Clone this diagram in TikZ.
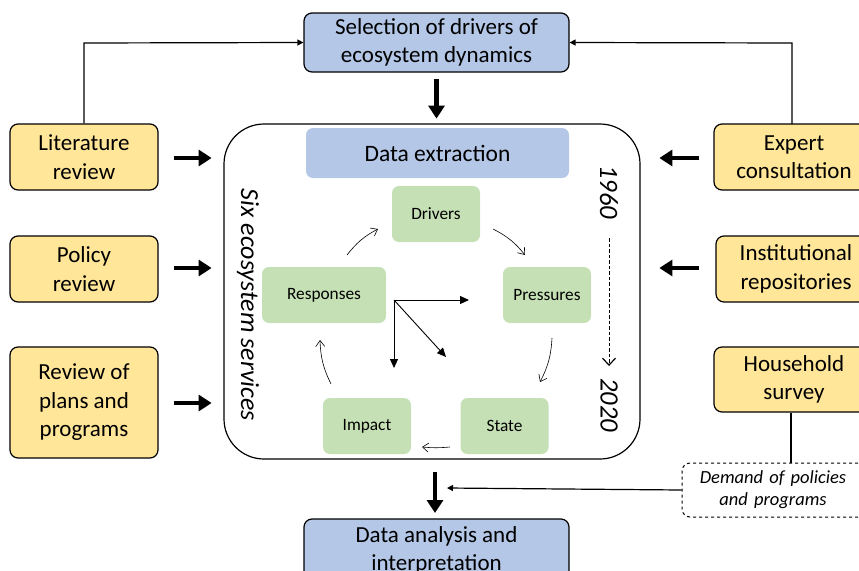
\documentclass[tikz,border=0pt]{standalone}
\usepackage{fontspec}
\setmainfont{Carlito}
\usetikzlibrary{arrows.meta,calc}
\definecolor{bluef}{HTML}{B4C7E7}
\definecolor{yelf}{HTML}{FFE699}
\definecolor{grnf}{HTML}{C5E0B4}
\tikzset{
  bluebox/.style={draw=black,line width=1.2pt,fill=bluef,rounded corners=8pt,align=center,font=\fontsize{23}{28}\selectfont},
  yelbox/.style={draw=black,line width=1.2pt,fill=yelf,rounded corners=8pt,align=center,font=\fontsize{23}{28.5}\selectfont},
  grnbox/.style={fill=grnf,rounded corners=7pt,minimum width=88pt,minimum height=56pt,font=\fontsize{17.3}{20}\selectfont},
  thick arrow/.style={line width=4.5pt,-{Triangle[length=13pt,width=16pt]}},
  thin arrow/.style={line width=1.2pt,-{Triangle[length=6pt,width=6pt]}},
  cyc/.style={line width=0.6pt,-{Straight Barb[length=6pt,width=9pt]}},
  mid arrow/.style={line width=0.9pt,-{Triangle[length=9pt,width=8pt]}},
  rottext/.style={rotate=-90,font=\itshape\fontsize{#1}{28}\selectfont},
}
\begin{document}
\begin{tikzpicture}[x=1pt,y=-1pt]
\useasboundingbox (0,0) rectangle (859,570);
\begin{scope}
\clip (0,0) rectangle (859,570);
% top/bottom blue boxes
\node[bluebox,minimum width=265pt,minimum height=59pt] (sel) at (436.5,42.5) {Selection of drivers of\\ecosystem dynamics};
\node[bluebox,minimum width=265pt,minimum height=62pt] (ana) at (436.5,550) {Data analysis and\\interpretation};
% big frame
\node[draw=black,line width=1.2pt,rounded corners=40pt,minimum width=416pt,minimum height=335pt] (frame) at (432,291.5) {};
\node[fill=bluef,rounded corners=7pt,minimum width=263pt,minimum height=50pt,font=\fontsize{23.5}{28}\selectfont] (ext) at (437.5,153) {Data extraction};
% green boxes
\node[grnbox] (drv) at (436,214) {Drivers};
\node[grnbox] (prs) at (547,295) {Pressures};
\node[grnbox,minimum width=124pt] (rsp) at (324,295) {Responses};
\node[grnbox] (imp) at (367,426) {Impact};
\node[grnbox] (sta) at (504.5,426) {State};
% cycle arrows
\coordinate (c1a) at (347,255); \coordinate (c1b) at (378,229);
\coordinate (c2a) at (493,229); \coordinate (c2b) at (525,255);
\coordinate (c3a) at (552,338); \coordinate (c3b) at (540,382);
\coordinate (c4a) at (450,447); \coordinate (c4b) at (422,447);
\coordinate (c5a) at (331,384); \coordinate (c5b) at (320,340);
\draw[cyc] (c1a) to[bend left=12] (c1b);
\draw[cyc] (c2a) to[bend left=12] (c2b);
\draw[cyc] (c3a) to[bend left=12] (c3b);
\draw[cyc] (c4a) to[bend left=5] (c4b);
\draw[cyc] (c5a) to[bend left=12] (c5b);
% three arrows
\coordinate (o) at (394,300);
\coordinate (oa) at (469,300);
\coordinate (ob) at (394,368);
\coordinate (oc) at (446,357);
\draw[mid arrow] (o) -- (oa);
\draw[mid arrow] (o) -- (ob);
\draw[mid arrow] (o) -- (oc);
% rotated texts
\node[rottext=26] (six) at (248,305) {Six ecosystem services};
\node[rottext=26.5] (y1) at (609,192) {1960};
\node[rottext=26.5] (y2) at (609,405) {2020};
\coordinate (ya) at (609,238);
\coordinate (yb) at (609,366);
\draw[line width=1pt,dash pattern=on 3.5pt off 2pt,-{Straight Barb[length=7pt,width=13pt,line width=1.2pt]}] (ya) -- (yb);
% left yellow
\node[yelbox,minimum width=148pt,minimum height=66pt] (lit) at (84,157) {Literature\\review};
\node[yelbox,minimum width=148pt,minimum height=66pt] (pol) at (84,269) {Policy\\review};
\node[yelbox,minimum width=148pt,minimum height=111pt] (rev) at (84,402.5) {Review of\\plans and\\programs};
% right yellow
\node[yelbox,minimum width=160pt,minimum height=66pt,text width=140pt] (exp) at (794,157) {Expert\\consultation};
\node[yelbox,minimum width=160pt,minimum height=66pt,text width=140pt] (ins) at (796,269) {Institutional\\repositories};
\node[yelbox,minimum width=160pt,minimum height=65pt,text width=140pt] (hou) at (794,379.5) {Household\\survey};
% dashed box
\node[draw=black,line width=1pt,dashed,rounded corners=8pt,minimum width=190pt,minimum height=54pt,text width=170pt,align=center,font=\itshape\fontsize{18.5}{22}\selectfont] (dem) at (777,490) {\hspace*{-8pt}\raisebox{-3pt}{Demand of policies}\\\hspace*{-8pt}\raisebox{-3pt}{and programs}};
% thick arrows
\draw[thick arrow] (sel.south) ++(0,6) -- ++(0,40);
\draw[thick arrow] (435,472) coordinate (da) -- (435,513) coordinate (db);
\draw[thick arrow] ($(lit.east)+(15,1)$) -- ++(38,0);
\draw[thick arrow] ($(pol.east)+(15,-1)$) -- ++(38,0);
\draw[thick arrow] ($(rev.east)+(15,0.5)$) -- ++(38,0);
\draw[thick arrow] ($(exp.west)+(-14,1)$) -- ++(-40,0);
\draw[thick arrow] ($(ins.west)+(-16,-1)$) -- ++(-40,0);
% thin connectors
\draw[thin arrow] (lit.north) -- (84,43) -- (sel.west);
\draw[thin arrow] (792,124) -- (792,43) -- (sel.east);
\draw[line width=1.2pt] (hou.south -| 791,0) -- (dem.north -| 791,0);
\draw[thin arrow] (dem.west) -- (447,488);
\end{scope}
\end{tikzpicture}
\end{document}
